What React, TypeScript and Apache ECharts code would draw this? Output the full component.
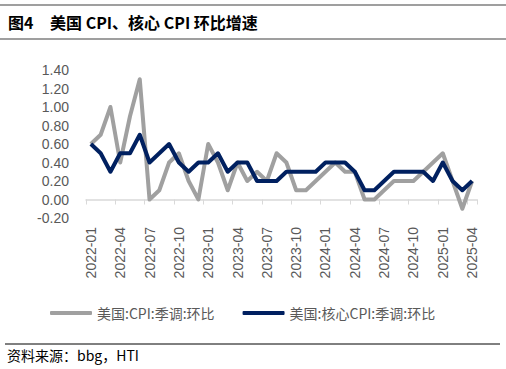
import React, { useEffect, useRef } from "react";
import * as echarts from "echarts";

const categories = [
  "2022-01","2022-02","2022-03","2022-04","2022-05","2022-06","2022-07","2022-08","2022-09","2022-10","2022-11","2022-12",
  "2023-01","2023-02","2023-03","2023-04","2023-05","2023-06","2023-07","2023-08","2023-09","2023-10","2023-11","2023-12",
  "2024-01","2024-02","2024-03","2024-04","2024-05","2024-06","2024-07","2024-08","2024-09","2024-10","2024-11","2024-12",
  "2025-01","2025-02","2025-03","2025-04",
];

const cpiMoM = [
  0.6, 0.7, 1.0, 0.4, 0.9, 1.3, 0.0, 0.1, 0.4, 0.5, 0.2, 0.0,
  0.6, 0.4, 0.1, 0.4, 0.2, 0.3, 0.2, 0.5, 0.4, 0.1, 0.1, 0.2,
  0.3, 0.4, 0.3, 0.3, 0.0, 0.0, 0.1, 0.2, 0.2, 0.2, 0.3, 0.4,
  0.5, 0.2, -0.1, 0.2,
];

const coreMoM = [
  0.6, 0.5, 0.3, 0.5, 0.5, 0.7, 0.4, 0.5, 0.6, 0.4, 0.3, 0.4,
  0.4, 0.5, 0.3, 0.4, 0.4, 0.2, 0.2, 0.2, 0.3, 0.3, 0.3, 0.3,
  0.4, 0.4, 0.4, 0.3, 0.1, 0.1, 0.2, 0.3, 0.3, 0.3, 0.3, 0.2,
  0.4, 0.2, 0.1, 0.2,
];

const seriesNames = ["美国:CPI:季调:环比", "美国:核心CPI:季调:环比"];
const titleNo = "图4";
const titleText = "美国 CPI、核心 CPI 环比增速";
const sourceText = "资料来源：bbg，HTI";

export default function App() {
  const ref = useRef<HTMLDivElement>(null);
  useEffect(() => {
    if (!ref.current) return;
    const chart = echarts.init(ref.current, undefined, { renderer: "svg" });
    const axisFont = "Liberation Sans, Arial, sans-serif";
    const cjkFont = "Noto Sans CJK SC, sans-serif";
    chart.setOption({
      animation: false,
      backgroundColor: "#ffffff",
      grid: { left: 86, right: 29, top: 70, bottom: 151, containLabel: false },
      legend: {
        data: seriesNames,
        left: 50,
        top: 306,
        padding: 0,
        itemWidth: 42,
        itemHeight: 4,
        itemGap: 28,
        icon: "roundRect",
        textStyle: { fontSize: 14, color: "#595959", fontFamily: cjkFont, padding: [0, 0, 0, 0] },
      },
      xAxis: {
        type: "category",
        data: categories,
        boundaryGap: true,
        axisLine: { onZero: true, lineStyle: { color: "#d9d9d9", width: 1.5 } },
        axisTick: { show: true, interval: 2, length: 5, lineStyle: { color: "#d9d9d9" } },
        axisLabel: {
          interval: 2,
          rotate: 90,
          margin: 9,
          fontSize: 14,
          color: "#595959",
          fontFamily: axisFont,
        },
        splitLine: { show: false },
      },
      yAxis: {
        type: "value",
        min: -0.2,
        max: 1.4,
        interval: 0.2,
        axisLine: { show: false },
        axisTick: { show: false },
        splitLine: { show: false },
        axisLabel: {
          margin: 17,
          fontSize: 14,
          color: "#595959",
          fontFamily: axisFont,
          formatter: (v: number) => v.toFixed(2),
        },
      },
      series: [
        {
          name: seriesNames[0],
          type: "line",
          data: cpiMoM,
          showSymbol: false,
          symbol: "none",
          color: "#a0a0a0",
          lineStyle: { color: "#a0a0a0", width: 4, join: "round" },
          z: 2,
        },
        {
          name: seriesNames[1],
          type: "line",
          data: coreMoM,
          showSymbol: false,
          symbol: "none",
          color: "#002060",
          lineStyle: { color: "#002060", width: 4, join: "round" },
          z: 3,
        },
      ],
      graphic: [
        { type: "line", shape: { x1: 0, y1: 5, x2: 506, y2: 5 }, style: { stroke: "#7f7f7f", lineWidth: 1.5 } },
        { type: "line", shape: { x1: 0, y1: 39, x2: 506, y2: 39 }, style: { stroke: "#7f7f7f", lineWidth: 1.5 } },
        {
          type: "text",
          left: 8,
          top: 14,
          style: { text: titleNo, font: `bold 16px ${cjkFont}`, fill: "#000000" },
        },
        {
          type: "text",
          left: 50,
          top: 14,
          style: { text: titleText, font: `bold 16px ${cjkFont}`, fill: "#000000" },
        },
        { type: "line", shape: { x1: 5, y1: 344, x2: 500, y2: 344 }, style: { stroke: "#000000", lineWidth: 1 } },
        {
          type: "text",
          left: 7,
          top: 348,
          style: { text: sourceText, font: `14px ${cjkFont}`, fill: "#000000" },
        },
      ],
    });
    return () => chart.dispose();
  }, []);
  return (
    <div
      ref={ref}
      style={{ position: "fixed", left: 0, top: 0, width: 506, height: 369 }}
    />
  );
}
